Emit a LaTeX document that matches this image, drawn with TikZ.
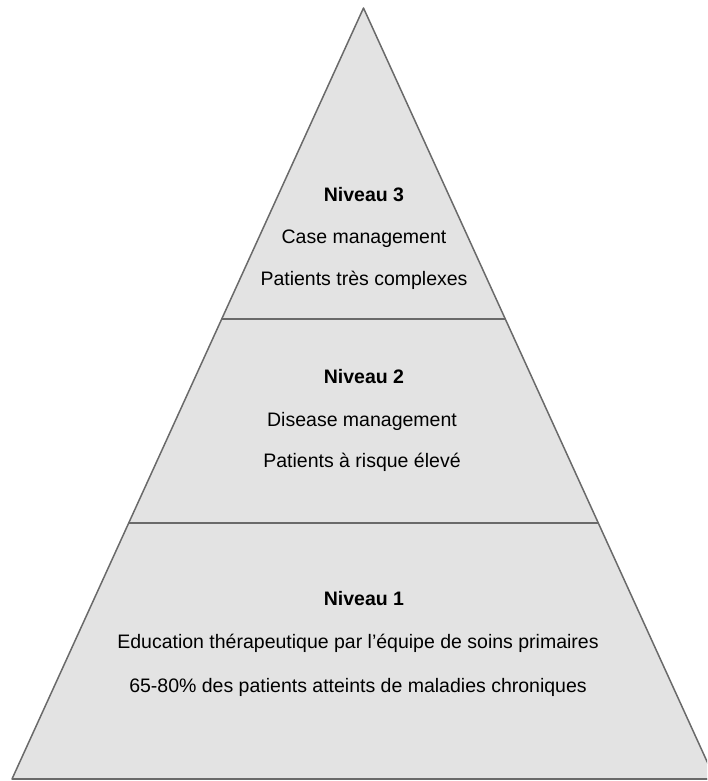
\documentclass[tikz,border=0pt]{standalone}
\usepackage{fontspec}
\setmainfont{Liberation Sans}
\definecolor{pyrfill}{HTML}{E3E3E3}
\definecolor{pyrline}{HTML}{6A6A6A}
\begin{document}
\begin{tikzpicture}[x=1pt,y=-1pt,
    lbl/.style={anchor=base,inner sep=0pt,font=\fontsize{19.5}{22}\selectfont},
    head/.style={lbl,font=\fontsize{19.5}{22}\selectfont\bfseries}]
  \useasboundingbox (0,0) rectangle (707,781);
  \clip (0,0) rectangle (707,781);
  % pyramid
  \coordinate (top) at (363.5,8);
  \coordinate (bl) at (12,779);
  \coordinate (br) at (715,779);
  \filldraw[fill=pyrfill,draw=pyrline,line width=1.5pt,line join=round]
    (top) -- (br) -- (bl) -- cycle;
  \draw[pyrline,line width=1.5pt] (222,319) -- (505,319);
  \draw[pyrline,line width=1.5pt] (129,523) -- (598,523);
  \draw[pyrline,line width=2pt] (bl) -- (br);
  % level 3
  \node[head] (n3) at (364,201) {Niveau 3};
  \node[lbl] (n3a) at (364,243) {Case management};
  \node[lbl] (n3b) at (364,285) {Patients très complexes};
  % level 2
  \node[head] (n2) at (364,383) {Niveau 2};
  \node[lbl] (n2a) at (362,426) {Disease management};
  \node[lbl] (n2b) at (362,467) {Patients à risque élevé};
  % level 1
  \node[head] (n1) at (364,605) {Niveau 1};
  \node[lbl] (n1a) at (358,648) {Education thérapeutique par l'équipe de soins primaires};
  \node[lbl] (n1b) at (358,692) {65-80\% des patients atteints de maladies chroniques};
\end{tikzpicture}
\end{document}
